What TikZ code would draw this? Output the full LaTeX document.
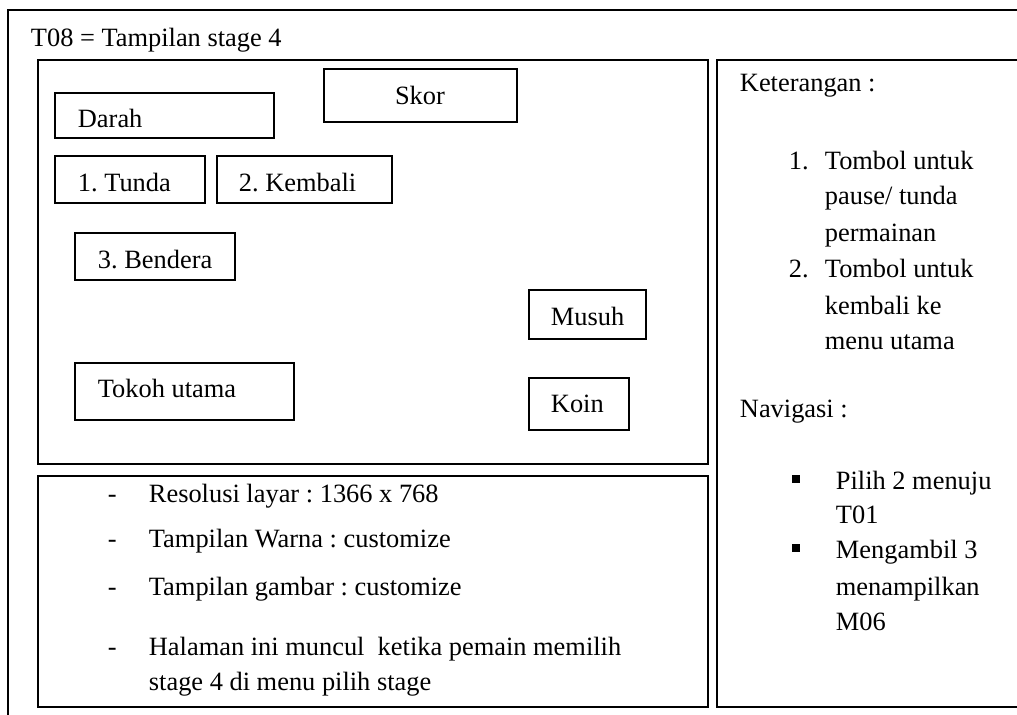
\documentclass[tikz,border=0pt]{standalone}
\usepackage{fontspec}
\setmainfont{Liberation Serif}
\frenchspacing
\begin{document}
\begin{tikzpicture}[x=0.4545pt,y=-0.4545pt,line width=0.85pt,
  every node/.style={font=\fontsize{12}{14}\selectfont,inner sep=0pt,anchor=base west}]
\clip (0,0) rectangle (1017,715);
% frames of the page
\draw (8,10) rectangle (1030,740);
\draw (38,60) rectangle (708,464);
\draw (38,476) rectangle (708,707);
\draw (717,60) rectangle (1030,707);
\node (judul) at (30,47) {T08 = Tampilan stage 4};
% game screen
\draw (55,93) rectangle (274,138);
\node (darah) at (77,128) {Darah};
\draw (324,69) rectangle (517,122);
\node[anchor=base] (skor) at (420,105) {Skor};
\draw (55,156) rectangle (205,203);
\node (tunda) at (77,192) {1. Tunda};
\draw (217,156) rectangle (392,203);
\node (kembali) at (238,192) {2. Kembali};
\draw (75,233) rectangle (235,280);
\node (bendera) at (97,269) {3. Bendera};
\draw (529,290) rectangle (646,339);
\node (musuh) at (550,326) {Musuh};
\draw (75,363) rectangle (294,420);
\node (tokoh) at (97,398) {Tokoh utama};
\draw (529,378) rectangle (629,430);
\node (koin) at (550,413) {Koin};
% specification
\node (d1) at (107,502) {-};
\node (spek1) at (148,502) {Resolusi layar : 1366 x 768};
\node (d2) at (107,547) {-};
\node (spek2) at (148,547) {Tampilan Warna : customize};
\node (d3) at (107,595) {-};
\node (spek3) at (148,595) {Tampilan gambar : customize};
\node (d4) at (107,655) {-};
\node (spek4) at (148,655) {Halaman ini muncul\ \ ketika pemain memilih};
\node (spek5) at (148,690) {stage 4 di menu pilih stage};
% notes
\node (ket) at (739,92) {Keterangan :};
\node (n1) at (788,170) {1.};
\node (ket1a) at (824,170) {Tombol untuk};
\node (ket1b) at (824,205) {pause/ tunda};
\node (ket1c) at (824,242) {permainan};
\node (n2) at (788,278) {2.};
\node (ket2a) at (824,278) {Tombol untuk};
\node (ket2b) at (824,315) {kembali ke};
\node (ket2c) at (824,350) {menu utama};
\node (nav) at (739,418) {Navigasi :};
\node[fill,minimum size=3.2pt,anchor=center] (b1) at (796,479) {};
\node (nav1a) at (835,490) {Pilih 2 menuju};
\node (nav1b) at (835,523) {T01};
\node[fill,minimum size=3.2pt,anchor=center] (b2) at (796,548) {};
\node (nav2a) at (835,558) {Mengambil 3};
\node (nav2b) at (835,595) {menampilkan};
\node (nav2c) at (835,630) {M06};
\end{tikzpicture}
\end{document}
